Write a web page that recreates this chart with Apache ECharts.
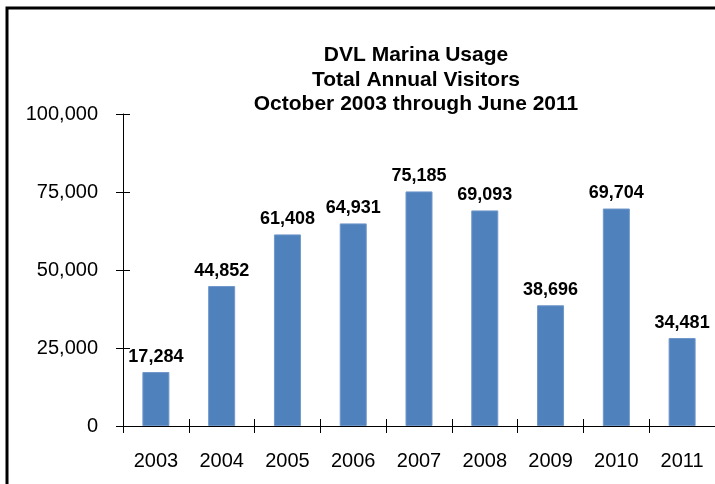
<!DOCTYPE html>
<html>
<head>
<meta charset="utf-8">
<script src="https://cdn.jsdelivr.net/npm/echarts@6/dist/echarts.min.js"></script>
<style>
html,body{margin:0;padding:0;background:#fff;}
#chart{width:715px;height:484px;}
</style>
</head>
<body>
<div id="chart"></div>
<script>
var titleLines = ['DVL Marina Usage', 'Total Annual Visitors', 'October 2003 through June 2011'];
var years = ['2003','2004','2005','2006','2007','2008','2009','2010','2011'];
var barValues = [17284, 44852, 61408, 64931, 75185, 69093, 38696, 69704, 28200];
var dataLabels = ['17,284','44,852','61,408','64,931','75,185','69,093','38,696','69,704','34,481'];
var yMin = 0, yMax = 100000, yStep = 25000;

var chart = echarts.init(document.getElementById('chart'), null, {renderer:'canvas'});
var font = 'Liberation Sans, Arial, sans-serif';
function fmt(v){ return v.toString().replace(/\B(?=(\d{3})+(?!\d))/g, ','); }

chart.setOption({
  animation: false,
  backgroundColor: '#fff',
  textStyle: {fontFamily: font},
  title: {
    text: titleLines.join('\n'),
    left: 411, top: 38, textAlign: 'center',
    textStyle: {fontFamily: font, fontSize: 21, fontWeight: 'bold', color: '#000', lineHeight: 24.5}
  },
  graphic: [{
    type: 'rect', silent: true,
    shape: {x: 7, y: 8, width: 900, height: 700},
    style: {fill: 'none', stroke: '#000', lineWidth: 3}
  }],
  grid: {left: 123, right: -8, top: 114, bottom: 58, containLabel: false},
  xAxis: [{
    type: 'category', data: years, boundaryGap: true,
    axisLine: {lineStyle: {color: '#000', width: 1}},
    axisTick: {show: true, inside: false, length: 7, alignWithLabel: false, lineStyle: {color: '#000'}},
    axisLabel: {fontFamily: font, fontSize: 20, color: '#000', margin: 25, interval: 0}
  }, {
    type: 'category', data: years, boundaryGap: true, position: 'bottom',
    axisLine: {show: false},
    axisTick: {show: true, inside: true, length: 7, lineStyle: {color: '#000'}},
    axisLabel: {show: false}
  }],
  yAxis: [{
    type: 'value', min: yMin, max: yMax, interval: yStep,
    axisLine: {show: true, lineStyle: {color: '#000', width: 1}},
    axisTick: {show: true, inside: false, length: 7, lineStyle: {color: '#000'}},
    splitLine: {show: false},
    axisLabel: {fontFamily: font, fontSize: 20, color: '#000', margin: 25, formatter: fmt}
  }, {
    type: 'value', min: yMin, max: yMax, interval: yStep, position: 'left',
    axisLine: {show: false},
    axisTick: {show: true, inside: true, length: 7, lineStyle: {color: '#000'}},
    splitLine: {show: false},
    axisLabel: {show: false}
  }],
  series: [{
    type: 'bar', xAxisIndex: 0, yAxisIndex: 0,
    data: barValues, barWidth: 27,
    itemStyle: {color: '#4F81BD', borderColor: '#6F97C9', borderWidth: 1},
    label: {
      show: true, position: 'top', distance: 6,
      fontFamily: font, fontSize: 18, fontWeight: 'bold', color: '#000',
      formatter: function(p){ return dataLabels[p.dataIndex]; }
    }
  }]
});
</script>
</body>
</html>
